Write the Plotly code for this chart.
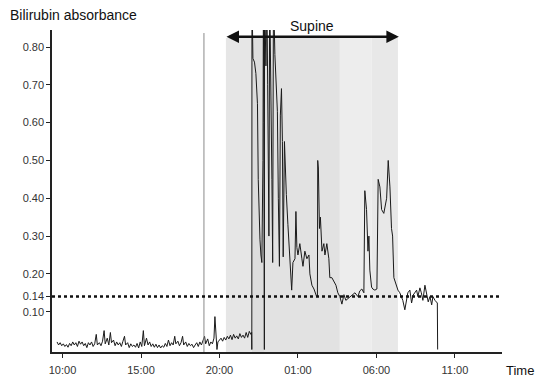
import plotly.graph_objects as go

# ---------------- data ----------------
# time in hours from 00:00 of day 1 (25 = 01:00 next day)
base_time = [9.65, 9.75, 9.85, 9.95, 10.05, 10.15, 10.25, 10.35, 10.45, 10.55, 10.65, 10.75, 10.85, 10.95,
             11.05, 11.15, 11.25, 11.35, 11.45, 11.55, 11.65, 11.75, 11.85, 11.95, 12.05, 12.15, 12.22, 12.35,
             12.45, 12.55, 12.65, 12.72, 12.85, 12.95, 13.05, 13.12, 13.25, 13.35, 13.45, 13.55, 13.65, 13.75,
             13.85, 13.95, 14.02, 14.15, 14.25, 14.35, 14.45, 14.55, 14.65, 14.75, 14.85, 14.95, 15.05, 15.15,
             15.22, 15.35, 15.45, 15.55, 15.65, 15.75, 15.85, 15.95, 16.05, 16.15, 16.25, 16.35, 16.45, 16.55,
             16.65, 16.75, 16.85, 16.95, 17.05, 17.15, 17.22, 17.35, 17.45, 17.55, 17.65, 17.72, 17.85, 17.95,
             18.05, 18.15, 18.25, 18.35, 18.45, 18.55, 18.65, 18.75, 18.85, 18.95, 19.05, 19.12, 19.25, 19.35,
             19.45, 19.55, 19.65, 19.71, 19.78, 19.84, 19.90, 20.00, 20.10, 20.20, 20.30, 20.40, 20.50, 20.60,
             20.70, 20.80, 20.90, 21.00, 21.10, 21.20, 21.30, 21.40, 21.50, 21.60, 21.70, 21.80, 21.90, 22.00,
             22.05]
base_value = [0.020, 0.012, 0.018, 0.010, 0.015, 0.008, 0.013, 0.006, 0.016, 0.010, 0.020, 0.012, 0.018, 0.008,
              0.022, 0.014, 0.020, 0.010, 0.016, 0.005, 0.018, 0.012, 0.020, 0.008, 0.015, 0.040, 0.012, 0.018,
              0.010, 0.022, 0.050, 0.015, 0.030, 0.012, 0.045, 0.018, 0.025, 0.010, 0.020, 0.012, 0.018, 0.008,
              0.022, 0.035, 0.012, 0.018, 0.005, 0.015, 0.008, 0.012, 0.006, 0.016, 0.004, 0.020, 0.008, 0.050,
              0.010, 0.030, 0.012, 0.020, 0.008, 0.015, 0.006, 0.014, 0.005, 0.012, 0.004, 0.010, 0.006, 0.016,
              0.008, 0.025, 0.010, 0.018, 0.012, 0.035, 0.015, 0.022, 0.010, 0.018, 0.035, 0.012, 0.020, 0.008,
              0.016, 0.010, 0.014, 0.005, 0.012, 0.018, 0.008, 0.020, 0.012, 0.025, 0.035, 0.015, 0.028, 0.010,
              0.020, 0.015, 0.030, 0.087, 0.040, 0.000, 0.020, 0.025, 0.030, 0.022, 0.032, 0.025, 0.035, 0.028,
              0.038, 0.026, 0.040, 0.030, 0.036, 0.028, 0.042, 0.032, 0.038, 0.030, 0.045, 0.032, 0.048, 0.040,
              0.045]

# supine period (values above 0.85 are off scale)
supine_time = [22.06, 22.07, 22.13, 22.23, 22.32, 22.42, 22.47, 22.51, 22.58, 22.64, 22.70, 22.77, 22.80, 22.83,
               22.86, 22.87, 22.96, 23.02, 23.07, 23.12, 23.15, 23.20, 23.28, 23.34, 23.39, 23.44, 23.53, 23.63,
               23.69, 23.75, 23.82, 23.88, 23.95, 24.01, 24.06, 24.14, 24.20, 24.26, 24.36, 24.49, 24.60, 24.68,
               24.81, 24.87, 24.93, 25.00, 25.12, 25.25, 25.32, 25.44, 25.57, 25.70, 25.76, 25.89, 26.02, 26.19,
               26.24, 26.26, 26.30, 26.37, 26.43, 26.53, 26.65, 26.72, 26.84, 26.97, 27.03, 27.16, 27.29, 27.42,
               27.54, 27.67, 27.80, 27.93, 28.05, 28.18, 28.31, 28.44, 28.63, 28.82, 28.94, 29.07, 29.20, 29.26,
               29.37, 29.46, 29.52, 29.58, 29.69, 29.77, 29.90, 30.03, 30.11, 30.22, 30.33, 30.47, 30.65, 30.75,
               30.86, 30.96, 31.03, 31.11, 31.24, 31.37, 31.49, 31.68, 31.81, 31.92, 32.00, 32.13, 32.24, 32.34,
               32.45, 32.56, 32.64, 32.77, 32.86, 32.96, 33.09, 33.20, 33.30, 33.41, 33.52, 33.60, 33.73, 33.88,
               33.90]
supine_value = [0.000, 0.950, 0.770, 0.760, 0.730, 0.650, 0.450, 0.350, 0.290, 0.250, 0.230, 0.500, 0.950, 0.600,
                0.000, 0.950, 0.750, 0.950, 0.700, 0.500, 0.300, 0.950, 0.720, 0.450, 0.230, 0.950, 0.780, 0.700,
                0.630, 0.400, 0.220, 0.620, 0.690, 0.550, 0.245, 0.550, 0.440, 0.410, 0.330, 0.240, 0.157, 0.230,
                0.240, 0.365, 0.270, 0.250, 0.280, 0.240, 0.220, 0.260, 0.240, 0.250, 0.200, 0.170, 0.160, 0.140,
                0.140, 0.500, 0.480, 0.320, 0.350, 0.260, 0.280, 0.250, 0.280, 0.240, 0.190, 0.190, 0.180, 0.170,
                0.150, 0.140, 0.120, 0.145, 0.130, 0.135, 0.140, 0.145, 0.150, 0.140, 0.155, 0.160, 0.150, 0.420,
                0.370, 0.260, 0.300, 0.210, 0.165, 0.160, 0.157, 0.160, 0.450, 0.430, 0.370, 0.360, 0.400, 0.500,
                0.430, 0.320, 0.300, 0.190, 0.170, 0.157, 0.150, 0.130, 0.105, 0.140, 0.150, 0.157, 0.123, 0.144,
                0.150, 0.157, 0.140, 0.163, 0.150, 0.130, 0.170, 0.150, 0.126, 0.140, 0.118, 0.140, 0.130, 0.123,
                0.000]

threshold = 0.14
x_tick_hours = [10, 15, 20, 25, 30, 35]
x_tick_labels = ["10:00", "15:00", "20:00", "01:00", "06:00", "11:00"]
y_tick_values = [0.10, 0.14, 0.20, 0.30, 0.40, 0.50, 0.60, 0.70, 0.80]

# shaded periods (start hour, end hour, shade)
shade_start = [20.41, 22.05, 22.89, 27.67, 29.71]
shade_end = [22.05, 22.89, 27.67, 29.71, 31.37]
shade_color = ["#e6e6e6", "#dddddd", "#e2e2e2", "#ededed", "#e8e8e8"]
marker_line_hour = 19.01
supine_start, supine_end = 20.35, 31.43

X_RANGE = [9.33, 38.0]
Y_RANGE = [-0.0066, 0.845]
FONT = "Liberation Sans, Arial, sans-serif"

times = base_time + supine_time
values = base_value + supine_value

fig = go.Figure()
fig.add_trace(go.Scatter(x=times, y=values, mode="lines",
                         line=dict(color="#1a1a1a", width=1), showlegend=False,
                         hoverinfo="skip"))

shapes = []
for s, e, c in zip(shade_start, shade_end, shade_color):
    shapes.append(dict(type="rect", xref="x", yref="y", x0=s, x1=e, y0=Y_RANGE[0], y1=0.824,
                       fillcolor=c, line=dict(width=0), layer="below"))
shapes.append(dict(type="line", xref="x", yref="y", x0=marker_line_hour, x1=marker_line_hour,
                   y0=Y_RANGE[0], y1=0.837, line=dict(color="#8a8a8a", width=1), layer="above"))
shapes.append(dict(type="line", xref="paper", yref="y", x0=0, x1=1, y0=threshold, y1=threshold,
                   line=dict(color="#111111", width=2.5, dash="dot"), layer="above"))

pw, ph = 537 - 52 - 35, 380 - 30 - 28
annotations = [
    dict(x=supine_end, y=0.827, ax=supine_start, ay=0.827, xref="x", yref="y", axref="x", ayref="y",
         text="", showarrow=True, arrowhead=2, arrowside="end+start", arrowsize=1.0,
         arrowwidth=2.5, arrowcolor="#111111"),
    dict(x=(supine_start + supine_end) / 2, y=0.827, xref="x", yref="y", text="Supine",
         showarrow=False, yanchor="middle", yshift=11, font=dict(size=14, color="#111111", family=FONT)),
    dict(x=(8 - 52) / pw, y=1 + (30 - 15) / ph, xref="paper", yref="paper", text="Bilirubin absorbance",
         showarrow=False, xanchor="left", yanchor="middle",
         font=dict(size=14, color="#111111", family=FONT)),
    dict(x=(505 - 52) / pw, y=-(370 - 352) / ph, xref="paper", yref="paper", text="Time",
         showarrow=False, xanchor="left", yanchor="middle", borderpad=0,
         font=dict(size=13, color="#111111", family=FONT)),
]

fig.update_layout(
    width=537, height=380,
    margin=dict(l=52, r=35, t=30, b=28),
    paper_bgcolor="white", plot_bgcolor="white",
    font=dict(family=FONT, size=11, color="#222222"),
    shapes=shapes, annotations=annotations,
    xaxis=dict(range=X_RANGE, tickvals=x_tick_hours, ticktext=x_tick_labels, automargin=False,
               showgrid=False, zeroline=False, showline=True, linecolor="#222222", linewidth=1.5,
               ticks="outside", ticklen=4, tickwidth=1, tickcolor="#222222", ticklabelstandoff=3,
               tickfont=dict(size=11, color="#333333")),
    yaxis=dict(range=Y_RANGE, tickvals=y_tick_values, tickformat=".2f", automargin=False,
               showgrid=False, zeroline=False, showline=True, linecolor="#222222", linewidth=1.5,
               ticks="outside", ticklen=4, tickwidth=1, tickcolor="#222222",
               tickfont=dict(size=11, color="#333333")),
)

fig.write_html("out.html", config={"displayModeBar": False},
               post_script="document.body.style.margin='0';document.body.style.overflow='hidden';")
